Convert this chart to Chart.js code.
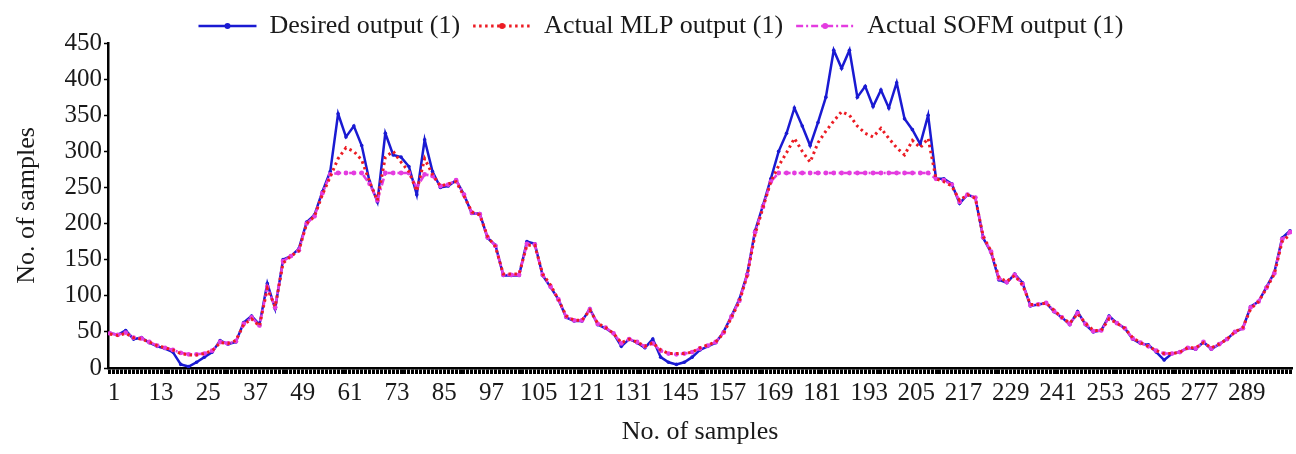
<!DOCTYPE html>
<html lang="en">
<head>
  <meta charset="UTF-8" />
  <title>Desired vs actual output</title>
  <script src="https://cdn.jsdelivr.net/npm/chart.js@4/dist/chart.umd.min.js"></script>
  <style>
    html, body { margin: 0; padding: 0; background: #fff; }
    canvas { display: block; }
  </style>
</head>
<body>
  <canvas id="outputChart" width="1296" height="454"></canvas>

  <script>
    // sample numbers (every 2nd sample, 0..300)
    const samples = Array.from({ length: 151 }, (_, i) => i * 2);

    const desired = [
      48, 46, 52, 40, 42, 35, 30, 27, 22, 5,
      2, 8, 15, 22, 38, 33, 36, 63, 72, 60,
      117, 82, 150, 155, 165, 202, 212, 244, 272, 352,
      320, 335, 308, 258, 230, 325, 295, 292, 279, 240,
      316, 272, 250, 252, 260, 240, 214, 214, 180, 170,
      128, 128, 128, 175, 172, 128, 112, 95, 70, 65,
      65, 82, 60, 55, 48, 30, 40, 35, 28, 40,
      15, 8, 5, 8, 15, 25, 30, 35, 50, 72,
      95, 130, 190, 225, 262, 300, 325, 360, 335, 308,
      340, 375, 440, 415, 440, 375, 390, 362, 385, 360,
      395, 345, 330, 310, 350, 262, 262, 255, 228, 240,
      236, 180, 160, 122, 118, 130, 118, 86, 88, 90,
      78, 70, 60, 78, 60, 50, 52, 72, 62, 55,
      40, 34, 32, 22, 11, 20, 22, 28, 26, 36,
      26, 33, 40, 50, 55, 85, 92, 112, 132, 180,
      190
    ];

    const actualMLP = [
      47, 45, 48, 42, 40, 36, 31, 28, 25, 20,
      18, 18, 20, 24, 35, 34, 38, 60, 68, 58,
      110, 85, 145, 155, 162, 200, 210, 240, 265, 290,
      305, 300, 288, 258, 232, 292, 300, 285, 272, 245,
      290, 268, 252, 255, 258, 238, 216, 212, 182, 168,
      130, 130, 130, 170, 170, 130, 115, 95, 72, 66,
      66, 80, 62, 56, 48, 35, 40, 36, 30, 35,
      25, 20, 20, 20, 22, 28, 32, 36, 48, 70,
      92, 128, 185, 222, 258, 280, 298, 318, 300, 285,
      312, 328, 342, 355, 350, 335, 325, 320, 332, 318,
      305, 295, 315, 305, 318, 262, 258, 252, 232, 240,
      235, 182, 162, 125, 120, 128, 115, 88, 88, 90,
      80, 70, 62, 75, 62, 52, 52, 68, 62, 55,
      42, 35, 30, 24, 20, 20, 22, 28, 28, 35,
      28, 33, 40, 50, 56, 82, 92, 110, 130, 175,
      185
    ];

    const actualSOFM = [
      48, 46, 49, 42, 41, 36, 31, 28, 25, 21,
      19, 19, 20, 24, 36, 34, 37, 61, 70, 59,
      112, 84, 148, 155, 163, 200, 210, 242, 268, 270,
      270, 270, 270, 255, 232, 270, 270, 270, 270, 250,
      268, 266, 252, 254, 260, 240, 215, 213, 181, 169,
      129, 129, 129, 172, 171, 129, 113, 95, 71, 66,
      66, 81, 61, 56, 48, 34, 40, 36, 30, 34,
      24, 20, 19, 20, 22, 27, 31, 36, 49, 71,
      93, 129, 188, 223, 258, 270, 270, 270, 270, 270,
      270, 270, 270, 270, 270, 270, 270, 270, 270, 270,
      270, 270, 270, 270, 270, 262, 260, 254, 230, 240,
      236, 181, 161, 124, 119, 129, 116, 87, 88, 90,
      79, 70, 61, 76, 61, 51, 52, 70, 62, 55,
      41, 35, 30, 24, 20, 20, 22, 28, 27, 36,
      27, 33, 40, 50, 55, 84, 92, 111, 131, 178,
      188
    ];

    // x labels as printed on the original axis (one every 12 samples)
    const tickLabels = ['1', '13', '25', '37', '49', '61', '73', '85', '97', '105', '121', '131',
      '145', '157', '169', '181', '193', '205', '217', '229', '241', '253', '265', '277', '289'];
    const yTicks = [0, 50, 100, 150, 200, 250, 300, 350, 400, 450];

    const serif = { family: '"Liberation Serif", "DejaVu Serif", serif', size: 26 };
    const tickFont = { family: '"Liberation Serif", "DejaVu Serif", serif', size: 25 };
    const ink = '#1a1a1a';

    const toPoints = arr => arr.map((v, i) => ({ x: samples[i], y: v }));

    // every sample gets a small tick mark under the axis
    const sampleTicks = Array.from({ length: 301 }, (_, i) => i);

    // legend: fixed height, nudged right, dot in the middle of each line
    const legendTweaks = {
      id: 'legendTweaks',
      beforeLayout(chart) {
        const lg = chart.legend;
        if (lg && !lg._fitPatched) {
          const fit = lg.fit.bind(lg);
          lg.fit = function () { fit(); this.height = 43; };
          lg._fitPatched = true;
        }
      },
      afterLayout(chart) {
        const lg = chart.legend;
        if (lg) { lg.left += 13; lg.right += 13; }
      },
      afterDraw(chart) {
        const lg = chart.legend;
        if (!lg || !lg.legendHitBoxes) return;
        const ctx = chart.ctx;
        const boxW = lg.options.labels.pointStyleWidth;
        lg.legendHitBoxes.forEach((box, i) => {
          const ds = chart.data.datasets[lg.legendItems[i].datasetIndex];
          ctx.save();
          ctx.fillStyle = ds.borderColor;
          ctx.beginPath();
          ctx.arc(box.left + boxW / 2, box.top + box.height / 2, 3, 0, Math.PI * 2);
          ctx.fill();
          ctx.restore();
        });
      }
    };

    const ctx = document.getElementById('outputChart').getContext('2d');
    new Chart(ctx, {
      type: 'line',
      data: {
        datasets: [
          {
            label: 'Desired output (1)',
            data: toPoints(desired),
            borderColor: '#1a1ad2',
            backgroundColor: '#1a1ad2',
            borderWidth: 2.5,
            pointRadius: 1.8,
            pointBorderWidth: 0,
            tension: 0,
            order: 3
          },
          {
            label: 'Actual MLP output (1)',
            data: toPoints(actualMLP),
            borderColor: '#ec1c24',
            backgroundColor: '#ec1c24',
            borderWidth: 3,
            borderDash: [2.5, 3.5],
            pointRadius: 0,
            tension: 0,
            order: 1
          },
          {
            label: 'Actual SOFM output (1)',
            data: toPoints(actualSOFM),
            borderColor: '#e43ce0',
            backgroundColor: '#e43ce0',
            borderWidth: 2.6,
            borderDash: [7, 3, 2, 3],
            pointRadius: 2.4,
            pointBorderWidth: 0,
            tension: 0,
            order: 2
          }
        ]
      },
      options: {
        responsive: false,
        animation: false,
        devicePixelRatio: 1,
        layout: { padding: { left: 0, right: 0, top: 0, bottom: 0 } },
        plugins: {
          legend: {
            position: 'top',
            labels: {
              font: serif,
              color: ink,
              usePointStyle: true,
              pointStyle: 'line',
              pointStyleWidth: 58,
              padding: 13,
              generateLabels: chart => chart.data.datasets.map((ds, i) => ({
                text: ds.label,
                strokeStyle: ds.borderColor,
                fillStyle: ds.borderColor,
                lineWidth: ds.borderWidth,
                lineDash: ds.borderDash || [],
                pointStyle: 'line',
                fontColor: ink,
                hidden: false,
                datasetIndex: i
              }))
            }
          },
          tooltip: { enabled: false }
        },
        scales: {
          x: {
            type: 'linear',
            min: -0.5,
            max: 300.5,
            afterBuildTicks: scale => {
              scale.ticks = sampleTicks.map(v => ({ value: v }));
            },
            afterFit: scale => { scale.height = 86; },
            ticks: {
              autoSkip: false,
              maxRotation: 0,
              minRotation: 0,
              padding: 4,
              font: tickFont,
              color: ink,
              callback: v => ((v - 1) % 12 === 0 && v >= 1) ? (tickLabels[(v - 1) / 12] || '') : ''
            },
            grid: { drawOnChartArea: false, tickLength: 6, tickWidth: 3, tickColor: '#000' },
            border: { color: '#000', width: 2.5 },
            title: {
              display: true,
              text: 'No. of samples',
              font: serif,
              color: ink,
              padding: { top: 0, bottom: 6 }
            }
          },
          y: {
            min: 0,
            max: 450,
            afterBuildTicks: scale => {
              scale.ticks = yTicks.map(v => ({ value: v }));
            },
            afterFit: scale => { scale.width = 108; },
            ticks: { font: tickFont, color: ink, padding: 2 },
            grid: { drawOnChartArea: false, tickLength: 4, tickWidth: 1.5, tickColor: '#000' },
            border: { color: '#000', width: 2.5 },
            title: {
              display: true,
              text: 'No. of samples',
              font: serif,
              color: ink,
              padding: { top: 12, bottom: 0 }
            }
          }
        }
      },
      plugins: [legendTweaks]
    });
  </script>
</body>
</html>
